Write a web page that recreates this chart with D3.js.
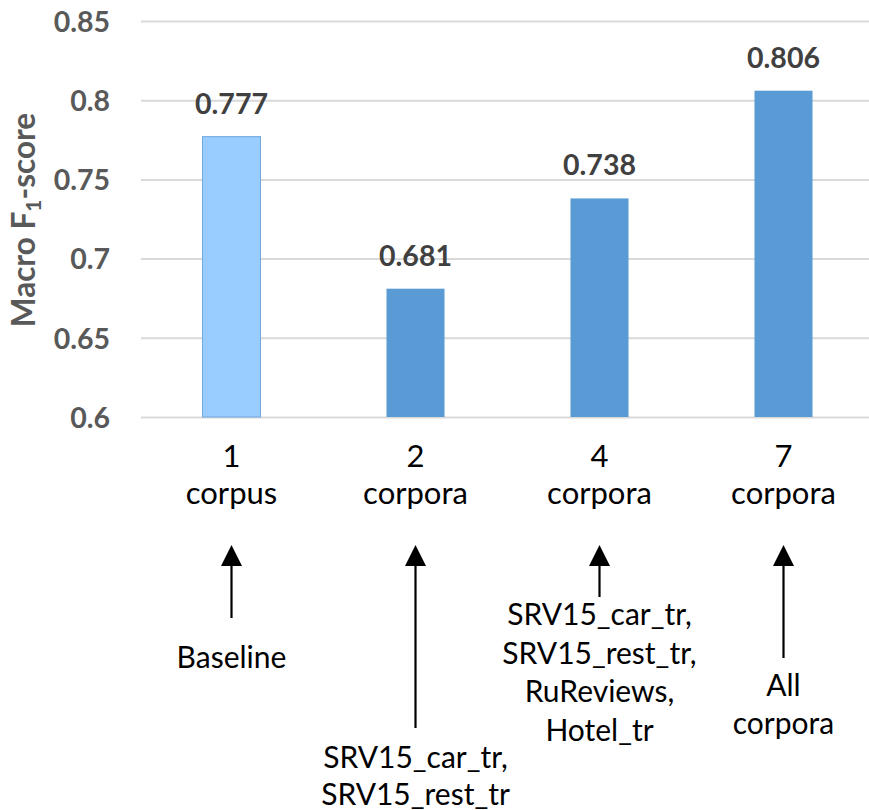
<!DOCTYPE html>
<html>
<head>
<meta charset="utf-8">
<script src="https://cdn.jsdelivr.net/npm/d3@7"></script>
<style>
  html, body { margin: 0; padding: 0; background: #ffffff; }
  svg { display: block; }
</style>
</head>
<body>
<script>
// ---- data ----
const categoryNumbers = ["1", "2", "4", "7"];
const categoryWords = ["corpus", "corpora", "corpora", "corpora"];
const scores = [0.777, 0.681, 0.738, 0.806];
const yTickValues = [0.6, 0.65, 0.7, 0.75, 0.8, 0.85];
const annotations = [
  ["Baseline"],
  ["SRV15_car_tr,", "SRV15_rest_tr"],
  ["SRV15_car_tr,", "SRV15_rest_tr,", "RuReviews,", "Hotel_tr"],
  ["All", "corpora"]
];
const yTitle = "Macro F";
const yTitleSub = "1";
const yTitleTail = "-score";

// ---- layout ----
const W = 869, H = 810;
const FONT = "Lato, 'Liberation Sans', Arial, sans-serif";
const plotLeft = 141, plotRight = 876, plotTop = 21, plotBottom = 417;
const arrowTip = 545, headLen = 21, headHalf = 10.5;
const arrowTails = [618, 728, 597, 658];
const annoFirstBaseline = [668, 768, 625, 696];
const annoLineStep = [38, 37, 38.5, 38];

const svg = d3.select("body").append("svg")
  .attr("width", W).attr("height", H)
  .attr("viewBox", `0 0 ${W} ${H}`);

const x = d3.scaleBand()
  .domain(d3.range(categoryNumbers.length))
  .range([139.5, 875.5])
  .padding(0);

const y = d3.scaleLinear()
  .domain([0.6, 0.85])
  .range([plotBottom, plotTop]);

const barW = 58;

// grid
const grid = svg.append("g")
  .attr("transform", `translate(${plotLeft},0)`)
  .call(d3.axisLeft(y).tickValues(yTickValues).tickSize(-(plotRight - plotLeft)).tickFormat(""));
grid.select(".domain").remove();
grid.selectAll(".tick line").attr("stroke", "#d9d9d9").attr("stroke-width", 2);

// y tick labels
const fmt = d3.format(".2~f");
const yl = svg.append("g")
  .attr("transform", `translate(110,0)`)
  .call(d3.axisLeft(y).tickValues(yTickValues).tickSize(0).tickPadding(0).tickFormat(fmt));
yl.select(".domain").remove();
yl.selectAll(".tick text")
  .attr("fill", "#595959")
  .attr("font-family", FONT)
  .attr("font-weight", "bold")
  .attr("font-size", 28.5)
  .attr("text-anchor", "end")
  .attr("x", 0)
  .attr("dy", "0.36em");

// bars
svg.append("g").selectAll("rect")
  .data(scores)
  .join("rect")
  .attr("x", (d, i) => x(i) + x.bandwidth() / 2 - barW / 2)
  .attr("y", d => y(d))
  .attr("width", barW)
  .attr("height", d => y(0.6) - y(d))
  .attr("fill", (d, i) => i === 0 ? "#99ccff" : "#5b9bd5")
  .attr("stroke", (d, i) => i === 0 ? "#6fa8dc" : "none")
  .attr("stroke-width", 1);

// value labels
svg.append("g").selectAll("text")
  .data(scores)
  .join("text")
  .attr("x", (d, i) => x(i) + x.bandwidth() / 2)
  .attr("y", d => y(d) - 23)
  .attr("text-anchor", "middle")
  .attr("font-family", FONT)
  .attr("font-weight", "bold")
  .attr("font-size", 28.5)
  .attr("fill", "#404040")
  .text(d => d3.format(".3f")(d));

// category labels (two lines)
const cat = svg.append("g").selectAll("text")
  .data(categoryNumbers)
  .join("text")
  .attr("text-anchor", "middle")
  .attr("font-family", FONT)
  .attr("font-size", 31)
  .attr("fill", "#000000");
cat.append("tspan")
  .attr("x", (d, i) => x(i) + x.bandwidth() / 2)
  .attr("y", 467)
  .text(d => d);
cat.append("tspan")
  .attr("x", (d, i) => x(i) + x.bandwidth() / 2)
  .attr("y", 504)
  .text((d, i) => categoryWords[i]);

// y axis title
const t = svg.append("text")
  .attr("transform", "translate(35,220) rotate(-90)")
  .attr("text-anchor", "middle")
  .attr("font-family", FONT)
  .attr("font-weight", "bold")
  .attr("font-size", 31.5)
  .attr("fill", "#595959");
t.append("tspan").text(yTitle);
t.append("tspan").attr("font-size", 21).attr("dy", 6).text(yTitleSub);
t.append("tspan").attr("dy", -6).text(yTitleTail);

// arrows + annotations
const ann = svg.append("g");
annotations.forEach((lines, i) => {
  const cx = x(i) + x.bandwidth() / 2;
  ann.append("line")
    .attr("x1", cx).attr("x2", cx)
    .attr("y1", arrowTip + headLen - 2).attr("y2", arrowTails[i])
    .attr("stroke", "#000").attr("stroke-width", 2.2);
  ann.append("path")
    .attr("d", `M${cx},${arrowTip} L${cx + headHalf},${arrowTip + headLen} L${cx - headHalf},${arrowTip + headLen} Z`)
    .attr("fill", "#000");
  const txt = ann.append("text")
    .attr("text-anchor", "middle")
    .attr("font-family", FONT)
    .attr("font-size", 30)
    .attr("fill", "#000");
  lines.forEach((s, j) => {
    txt.append("tspan")
      .attr("x", cx)
      .attr("y", annoFirstBaseline[i] + j * annoLineStep[i])
      .text(s);
  });
});
</script>
</body>
</html>
